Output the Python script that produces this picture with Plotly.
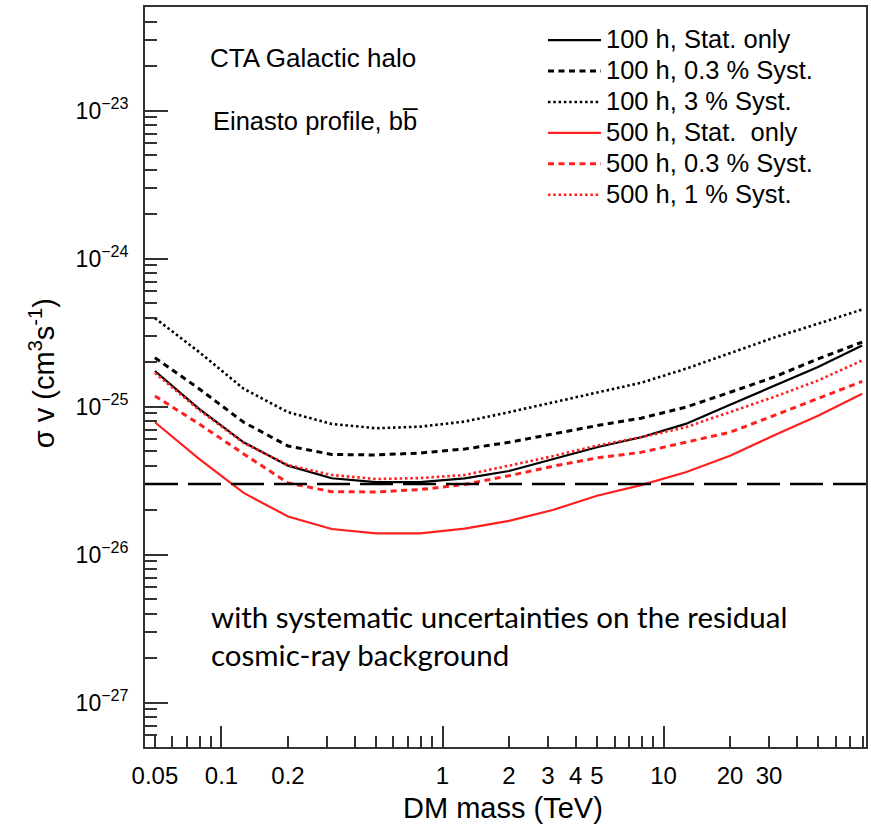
import plotly.graph_objects as go

# ---- data ----
mass_tev = [0.05, 0.0792, 0.126, 0.2, 0.315, 0.5, 0.792, 1.26, 2.0, 3.15,
            5.0, 7.92, 12.6, 20.0, 31.5, 50.0, 79.2]

sv_100h_stat = [1.74e-25, 9.65e-26, 5.74e-26, 3.99e-26, 3.28e-26, 3.09e-26, 3.09e-26,
                3.27e-26, 3.67e-26, 4.43e-26, 5.31e-26, 6.21e-26, 7.64e-26, 1.03e-25,
                1.37e-25, 1.85e-25, 2.59e-25]
sv_100h_03 = [2.14e-25, 1.32e-25, 7.84e-26, 5.42e-26, 4.75e-26, 4.71e-26, 4.86e-26,
              5.17e-26, 5.74e-26, 6.53e-26, 7.44e-26, 8.35e-26, 9.91e-26, 1.25e-25,
              1.58e-25, 2.10e-25, 2.73e-25]
sv_100h_3 = [3.96e-25, 2.34e-25, 1.32e-25, 9.17e-26, 7.64e-26, 7.14e-26, 7.32e-26,
             7.92e-26, 9.17e-26, 1.07e-25, 1.25e-25, 1.45e-25, 1.80e-25, 2.29e-25,
             2.92e-25, 3.63e-25, 4.53e-25]
sv_500h_stat = [7.84e-26, 4.43e-26, 2.61e-26, 1.81e-26, 1.49e-26, 1.39e-26, 1.39e-26,
                1.50e-26, 1.69e-26, 2.00e-26, 2.50e-26, 2.95e-26, 3.60e-26, 4.66e-26,
                6.37e-26, 8.69e-26, 1.22e-25]
sv_500h_03 = [1.18e-25, 7.64e-26, 4.79e-26, 3.05e-26, 2.66e-26, 2.65e-26, 2.75e-26,
              2.98e-26, 3.41e-26, 3.95e-26, 4.50e-26, 4.91e-26, 5.74e-26, 6.71e-26,
              8.69e-26, 1.13e-25, 1.48e-25]
sv_500h_1 = [1.69e-25, 9.50e-26, 5.68e-26, 4.03e-26, 3.45e-26, 3.24e-26, 3.29e-26,
             3.45e-26, 3.99e-26, 4.62e-26, 5.45e-26, 6.21e-26, 7.25e-26, 9.17e-26,
             1.16e-25, 1.50e-25, 2.05e-25]

thermal_sv = 3e-26

series_names = ["100 h, Stat. only", "100 h, 0.3 % Syst.", "100 h, 3 % Syst.",
                "500 h, Stat.  only", "500 h, 0.3 % Syst.", "500 h, 1 % Syst."]

x_labels = {0.05: "0.05", 0.1: "0.1", 0.2: "0.2", 1: "1", 2: "2", 3: "3",
            4: "4", 5: "5", 10: "10", 20: "20", 30: "30"}
y_decades = [1e-27, 1e-26, 1e-25, 1e-24, 1e-23]
y_labels = ["10<sup>\u221227</sup>", "10<sup>\u221226</sup>", "10<sup>\u221225</sup>",
            "10<sup>\u221224</sup>", "10<sup>\u221223</sup>"]

# ---- styling ----
RED = "#ff1f1f"
FONT = "Liberation Sans, Arial, Helvetica, sans-serif"
styles = [
    dict(color="black", width=2.2, dash="solid"),
    dict(color="black", width=3, dash="6px,4.5px"),
    dict(color="black", width=2.6, dash="2.5px,2.8px"),
    dict(color=RED, width=2.2, dash="solid"),
    dict(color=RED, width=3, dash="6px,4.5px"),
    dict(color=RED, width=2.6, dash="2.5px,2.8px"),
]
all_series = [sv_100h_stat, sv_100h_03, sv_100h_3, sv_500h_stat, sv_500h_03, sv_500h_1]

fig = go.Figure()
for name, ys, st in zip(series_names, all_series, styles):
    fig.add_trace(go.Scatter(
        x=mass_tev, y=ys, mode="lines",
        name="<span style='font-size:25.5px'>" + name.replace(" ", "&nbsp;") + "</span>",
        line=st))

fig.add_hline(y=thermal_sv, line=dict(color="black", width=2.4, dash="33px,10px"))

# x ticks: every 1..9 x decade; labels only at selected values
x_tickvals = []
for dec in [0.01, 0.1, 1, 10]:
    for m in range(1, 10):
        v = round(m * dec, 6)
        if 0.05 <= v <= 80:
            x_tickvals.append(v)
x_ticktext = [x_labels.get(v, "") for v in x_tickvals]

fig.update_layout(
    width=871, height=825,
    margin=dict(l=145, r=3, t=7, b=78),
    paper_bgcolor="white", plot_bgcolor="white",
    font=dict(family=FONT, color="black", size=24),
    showlegend=True,
    legend=dict(x=0.552, y=0.983, xanchor="left", yanchor="top",
                bgcolor="rgba(255,255,255,0)", font=dict(size=21.5, family=FONT),
                itemwidth=53, tracegroupgap=0),
    xaxis=dict(type="log", range=[-1.346, 1.916],
               tickmode="array", tickvals=x_tickvals, ticktext=x_ticktext,
               ticks="inside", ticklen=11, tickwidth=1.5, tickcolor="#333",
               showline=True, linecolor="#333", linewidth=1.8, mirror=True,
               showgrid=False, zeroline=False, ticklabelstandoff=6,
               tickfont=dict(size=24),
               minor=dict(tickmode="array", tickvals=[0.1, 1, 10], ticks="inside",
                          ticklen=21, tickwidth=1.5, tickcolor="#333", showgrid=False)),
    yaxis=dict(type="log", range=[-27.3, -22.3],
               tickmode="array", tickvals=y_decades, ticktext=y_labels,
               ticks="inside", ticklen=23, tickwidth=1.5, tickcolor="#333",
               showline=True, linecolor="#333", linewidth=1.8, mirror=True,
               showgrid=False, zeroline=False, ticklabelstandoff=10,
               tickfont=dict(size=23),
               minor=dict(dtick="D1", ticks="inside", ticklen=12, tickwidth=1.5,
                          tickcolor="#333", showgrid=False)),
)

annots = [
    dict(text="CTA Galactic halo", x=(208 - 145) / 723, y=(747 - 57.5) / 740,
         xanchor="left", yanchor="middle", font=dict(size=26, family=FONT)),
    dict(text="Einasto profile, bb\u0305", x=(211 - 145) / 723, y=(747 - 121) / 740,
         xanchor="left", yanchor="middle", font=dict(size=25.5, family=FONT)),
    dict(text="with systematic uncertainties on the residual<br>cosmic-ray background",
         x=(209 - 145) / 723, y=(747 - 635) / 740, xanchor="left", yanchor="middle",
         align="left", font=dict(size=29.5, family="Lato, Open Sans, sans-serif")),
    dict(text="\u03c3 v (cm<sup>3</sup>s<sup>-1</sup>)", x=(42 - 145) / 723,
         y=(747 - 373) / 740, textangle=-90, xanchor="center", yanchor="middle",
         font=dict(size=29, family=FONT)),
    dict(text="DM mass (TeV)", x=(504 - 145) / 723, y=(747 - 808) / 740,
         xanchor="center", yanchor="middle", font=dict(size=29, family=FONT)),
]
for a in annots:
    fig.add_annotation(xref="paper", yref="paper", showarrow=False, **a)

fig.write_html("out.html")
